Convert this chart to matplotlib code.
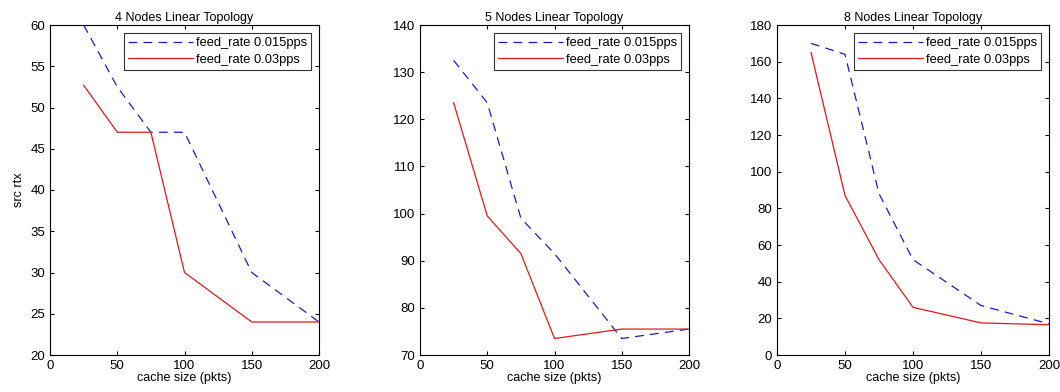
import matplotlib.pyplot as plt

cache = [25, 50, 75, 100, 150, 200]

# 4 nodes
n4_slow = [60, 52.5, 47, 47, 30, 24]
n4_fast = [52.7, 47, 47, 30, 24, 24]
# 5 nodes
n5_slow = [132.5, 123.5, 99, 91.5, 73.5, 75.5]
n5_fast = [123.5, 99.5, 91.5, 73.5, 75.5, 75.5]
# 8 nodes
n8_slow = [170, 164, 88, 52, 27, 17]
n8_fast = [165, 87, 52, 26, 17.5, 16.5]

titles = ["4 Nodes Linear Topology", "5 Nodes Linear Topology", "8 Nodes Linear Topology"]
ylims = [(20, 60), (70, 140), (0, 180)]
yticks = [range(20, 61, 5), range(70, 141, 10), range(0, 181, 20)]
series = [(n4_slow, n4_fast), (n5_slow, n5_fast), (n8_slow, n8_fast)]
boxes = [(50, 319), (420, 689), (777, 1049)]

plt.rcParams['font.family'] = 'Liberation Sans'
plt.rcParams['font.size'] = 8

fig = plt.figure(figsize=(10.6, 3.92), dpi=100)
W, H = 1060, 392
top, bottom = 25, 355

for i in range(3):
    l, r = boxes[i]
    ax = fig.add_axes([l / W, 1 - bottom / H, (r - l) / W, (bottom - top) / H])
    slow, fast = series[i]
    ax.plot(cache, slow, color='#1a1acc', linestyle=(0, (7, 5)), linewidth=0.9,
            label="feed_rate 0.015pps")
    ax.plot(cache, fast, color='#dd1a1a', linewidth=0.9, label="feed_rate 0.03pps")
    ax.set_xlim(0, 200)
    ax.set_ylim(*ylims[i])
    ax.set_xticks(range(0, 201, 50))
    ax.set_yticks(list(yticks[i]))
    ax.tick_params(direction='in', top=True, right=True, labelsize=9.5, length=3)
    ax.set_title(titles[i], fontsize=9, pad=3)
    ax.set_xlabel("cache size (pkts)", fontsize=9, labelpad=0)
    if i == 0:
        ax.set_ylabel("src rtx", fontsize=9)
    leg = ax.legend(loc='upper right', fancybox=False, edgecolor='black',
                    fontsize=9.3, handlelength=5, borderaxespad=0.6,
                    labelspacing=0.35, handletextpad=0.2, borderpad=0.35)
    leg.get_frame().set_linewidth(0.8)

fig.savefig("out.png", dpi=100)
